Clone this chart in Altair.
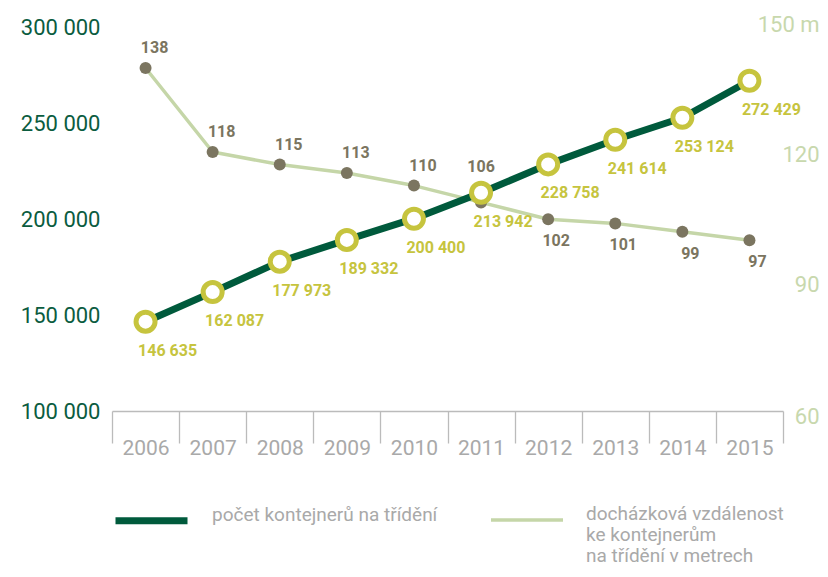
import altair as alt
import pandas as pd

years = ["2006", "2007", "2008", "2009", "2010", "2011", "2012", "2013", "2014", "2015"]
containers = [146635, 162087, 177973, 189332, 200400, 213942, 228758, 241614, 253124, 272429]
distance = [138, 118, 115, 113, 110, 106, 102, 101, 99, 97]
dist_label_pos = ["above", "above", "above", "above", "above", "high", "below", "below", "below", "below"]

s_main = "počet kontejnerů na třídění"
s_dist = "docházková vzdálenost ke kontejnerům na třídění v metrech"

DARK = "#005a3c"
LIGHT = "#c5d6a8"
YEL = "#c6c43e"
BROWN = "#7b7560"
GRAY = "#a9a9a9"
FONT = "Roboto"

df_main = pd.DataFrame({
    "year": years,
    "count": containers,
    "series": s_main,
    "label": [f"{v:,}".replace(",", " ") for v in containers],
})
df_dist = pd.DataFrame({
    "year": years,
    "dist": distance,
    "series": s_dist,
    "pos": dist_label_pos,
})

x_enc = alt.X(
    "year:N",
    sort=years,
    title=None,
    scale=alt.Scale(type="band", paddingInner=0, paddingOuter=0),
    axis=alt.Axis(
        labelAngle=0, labelFont=FONT, labelFontSize=21, labelColor=GRAY,
        tickBand="extent", tickSize=32, tickColor="#bbbbbb", tickWidth=1.3,
        domainColor="#bbbbbb", domainWidth=1.6, labelPadding=-6, grid=False,
    ),
)

legend = alt.Legend(
    title=None, orient="none", legendX=0, legendY=464, direction="horizontal",
    symbolType="stroke", symbolSize=5184, labelFont=FONT, labelFontSize=19,
    labelColor=GRAY, labelOffset=21, columnPadding=46, labelLimit=400,
    padding=0, labelBaseline="alphabetic",
    labelExpr="datum.label == '" + s_dist + "' ? ['docházková vzdálenost', 'ke kontejnerům', 'na třídění v metrech'] : [datum.label, ' ', ' ']",
)

color_enc = alt.Color(
    "series:N",
    scale=alt.Scale(domain=[s_main, s_dist], range=[DARK, LIGHT]),
    legend=legend,
)
sw_enc = alt.StrokeWidth(
    "series:N",
    scale=alt.Scale(domain=[s_main, s_dist], range=[7, 3.5]),
    legend=legend,
)

y_left = alt.Y(
    "count:Q",
    title=None,
    scale=alt.Scale(domain=[100000, 305700], nice=False, zero=False),
    axis=alt.Axis(
        orient="left", values=[100000, 150000, 200000, 250000, 300000],
        labelExpr="replace(format(datum.value, ','), ',', ' ')",
        labelFont=FONT, labelFontSize=22, labelColor="#0b5c3f",
        domain=False, ticks=False, grid=False, labelPadding=12,
    ),
)
y_right = alt.Y(
    "dist:Q",
    title=None,
    scale=alt.Scale(domain=[56.33, 150.14], nice=False, zero=False),
    axis=alt.Axis(
        orient="right", values=[60, 90, 120, 150],
        labelExpr="datum.value == 150 ? '150 m' : datum.value",
        labelFont=FONT, labelFontSize=22, labelColor="#c8d8ad",
        labelAlign="right", labelPadding=36,
        labelOffset={
            "condition": [
                {"test": "datum.value == 150", "value": 7},
                {"test": "datum.value == 120", "value": 11},
                {"test": "datum.value == 90", "value": 15},
            ],
            "value": 21,
        },
        domain=False, ticks=False, grid=False,
    ),
)

base_dist = alt.Chart(df_dist)
dist_line = base_dist.mark_line(strokeJoin="round").encode(
    x=x_enc, y=y_right, color=color_enc, strokeWidth=sw_enc
)
dist_pts = base_dist.mark_point(filled=True, size=144, color=BROWN, opacity=1).encode(
    x=x_enc, y=y_right
)
dist_lab_above = base_dist.transform_filter("datum.pos == 'above'").mark_text(
    font=FONT, fontSize=16, fontWeight="bold", color=BROWN, dx=9, dy=-20
).encode(x=x_enc, y=y_right, text="dist:Q")
dist_lab_high = base_dist.transform_filter("datum.pos == 'high'").mark_text(
    font=FONT, fontSize=16, fontWeight="bold", color=BROWN, dx=0, dy=-35
).encode(x=x_enc, y=y_right, text="dist:Q")
dist_lab_below = base_dist.transform_filter("datum.pos == 'below'").mark_text(
    font=FONT, fontSize=16, fontWeight="bold", color=BROWN, dx=8, dy=22
).encode(x=x_enc, y=y_right, text="dist:Q")
dist_group = alt.layer(dist_line, dist_pts, dist_lab_above, dist_lab_high, dist_lab_below)

base_main = alt.Chart(df_main)
main_line = base_main.mark_line(strokeJoin="round", strokeCap="round").encode(
    x=x_enc, y=y_left, color=color_enc, strokeWidth=sw_enc
)
main_pts = base_main.mark_point(
    filled=False, size=361, stroke=YEL, strokeWidth=5, fill="white", fillOpacity=1, opacity=1
).encode(x=x_enc, y=y_left)
main_lab = base_main.mark_text(
    font=FONT, fontSize=16, fontWeight="bold", color=YEL, dx=22, dy=29
).encode(x=x_enc, y=y_left, text="label:N")
main_group = alt.layer(main_line, main_pts, main_lab)

chart = alt.layer(dist_group, main_group).resolve_scale(y="independent").properties(
    width=671, height=394,
    autosize=alt.AutoSizeParams(type="none"),
    padding={"left": 104, "top": 9, "right": 37, "bottom": 158},
    background="white",
).configure_view(stroke=None)

chart.save("out.html", embed_options={"renderer": "svg", "actions": False})
